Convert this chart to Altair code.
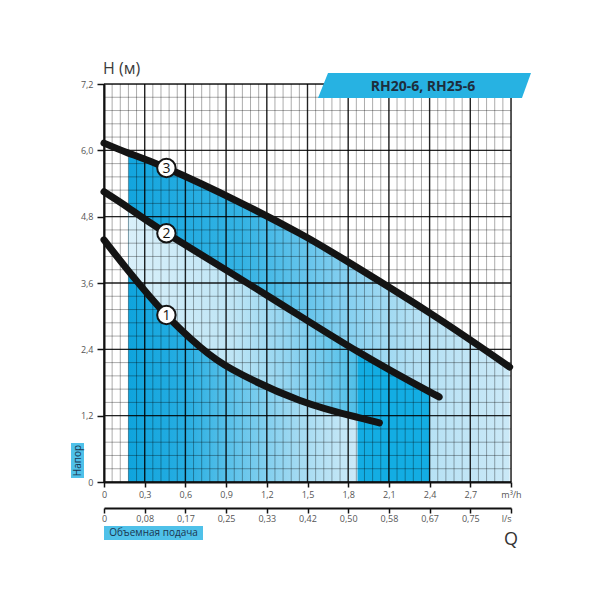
import altair as alt
import pandas as pd

# ---------------- data ----------------
curve1_q = [0, 0.18, 0.46, 0.71, 0.95, 1.44, 1.87, 2.03]
curve1_h = [4.38, 3.82, 3.02, 2.44, 2.03, 1.48, 1.17, 1.07]
curve2_q = [0, 0.18, 0.46, 1.20, 1.87, 2.40, 2.45]
curve2_h = [5.25, 4.96, 4.50, 3.38, 2.36, 1.63, 1.57]
curve3_q = [0, 0.18, 0.46, 1.00, 1.44, 1.74, 2.40, 2.99]
curve3_h = [6.13, 5.95, 5.68, 5.06, 4.50, 4.07, 3.06, 2.08]

curve_names = ["1", "2", "3"]
label_q = [0.46, 0.46, 0.46]
label_h = [3.02, 4.50, 5.68]

zone_start = 0.18
band_start = 1.87
band_end = 2.40

q_m3h_labels = ["0", "0,3", "0,6", "0,9", "1,2", "1,5", "1,8", "2,1", "2,4", "2,7", "m³/h"]
q_ls_labels = ["0", "0,08", "0,17", "0,25", "0,33", "0,42", "0,50", "0,58", "0,67", "0,75", "l/s"]
h_labels = ["0", "1,2", "2,4", "3,6", "4,8", "6,0", "7,2"]

q_major_step = 0.3
q_minor_step = 0.06
h_major_step = 1.2
h_minor_step = 0.24
q_max = 3.0
h_max = 7.2

title_text = "RH20-6, RH25-6"

# ---------------- tables ----------------
curves = pd.concat([
    pd.DataFrame({"q": curve1_q, "h": curve1_h, "curve": "1"}),
    pd.DataFrame({"q": curve2_q, "h": curve2_h, "curve": "2"}),
    pd.DataFrame({"q": curve3_q, "h": curve3_h, "curve": "3"}),
], ignore_index=True)
labels_df = pd.DataFrame({"q": label_q, "h": label_h, "t": curve_names})

q_major = [round(i * q_major_step, 2) for i in range(len(q_m3h_labels))]
q_minor = [round(i * q_minor_step, 2) for i in range(int(round(q_max / q_minor_step)) + 1)]
h_major = [round(i * h_major_step, 2) for i in range(len(h_labels))]
h_minor = [round(i * h_minor_step, 2) for i in range(int(round(h_max / h_minor_step)) + 1)]

FONT = "Open Sans"
INTERP = "natural"
xs = alt.Scale(domain=[0, q_max], nice=False, zero=True)
ys = alt.Scale(domain=[0, h_max], nice=False, zero=True)


def lab_expr(labels, step):
    return "[" + ",".join("'" + s + "'" for s in labels) + "][round(datum.value/" + str(step) + ")]"


main_x_axis = alt.Axis(
    values=q_major, labelExpr=lab_expr(q_m3h_labels, q_major_step), title=None, grid=False,
    tickSize=5, tickWidth=1.5, tickColor="#111", domainColor="#111", domainWidth=2,
    labelFont=FONT, labelFontSize=9, labelColor="#555", labelPadding=3,
    labelFlush=False, labelOverlap=False, zindex=1, orient="bottom")
sec_x_axis = alt.Axis(
    values=q_major, labelExpr=lab_expr(q_ls_labels, q_major_step), title=None, grid=False,
    tickSize=5, tickWidth=1.5, tickColor="#111", domainColor="#111", domainWidth=2,
    labelFont=FONT, labelFontSize=9, labelColor="#555", labelPadding=1,
    labelFlush=False, labelOverlap=False, zindex=1, orient="bottom", offset=26,
    labelAlign={"condition": {"test": "datum.value >= 2.99", "value": "right"}, "value": "center"})
y_axis = alt.Axis(
    values=h_major, labelExpr=lab_expr(h_labels, h_major_step), title=None, grid=False,
    tickSize=7, tickWidth=1.5, tickColor="#111", domainColor="#111", domainWidth=2,
    labelFont=FONT, labelFontSize=9, labelColor="#555", labelPadding=4,
    labelFlush=False, labelOverlap=False, zindex=1, orient="left")


def grad(stops):
    return alt.Gradient(gradient="linear", x1=0, x2=1, y1=0, y2=0,
                        stops=[alt.GradientStop(offset=o, color=c) for o, c in stops])


r3 = alt.Chart(curves).transform_filter(
    f"datum.curve == '3' && datum.q >= {zone_start}"
).mark_area(interpolate=INTERP, color=grad([
    (0, "#13a5de"), (0.3, "#34b3e4"), (0.55, "#7fcdef"), (0.75, "#b3e0f4"), (1, "#cbe9f7")])
).encode(x=alt.X("q:Q", scale=xs, axis=main_x_axis), y=alt.Y("h:Q", scale=ys, axis=y_axis))

r2 = alt.Chart(curves).transform_filter(
    f"datum.curve == '2' && datum.q >= {zone_start} && datum.q <= {band_start}"
).mark_area(interpolate=INTERP, color=grad([
    (0, "#d9f0fa"), (0.45, "#bfe5f5"), (0.75, "#86d0ef"), (1, "#4fbfe8")])
).encode(x=alt.X("q:Q", scale=xs, axis=None), y=alt.Y("h:Q", scale=ys, axis=None))

r1 = alt.Chart(curves).transform_filter(
    f"datum.curve == '1' && datum.q >= {zone_start} && datum.q <= {band_start}"
).mark_area(interpolate=INTERP, color=grad([
    (0, "#0fa4dd"), (0.25, "#27aee2"), (0.5, "#6ac7ec"), (0.75, "#a5dbf2"), (1, "#cdeaf8")])
).encode(x=alt.X("q:Q", scale=xs, axis=None), y=alt.Y("h:Q", scale=ys, axis=None))

band = alt.Chart(curves).transform_filter(
    f"datum.curve == '2' && datum.q >= {band_start} && datum.q <= {band_end}"
).mark_area(interpolate=INTERP, color="#13ade3"
).encode(x=alt.X("q:Q", scale=xs, axis=None), y=alt.Y("h:Q", scale=ys, axis=None))

vminor = alt.Chart(pd.DataFrame({"q": q_minor})).mark_rule(
    color="black", opacity=0.33, strokeWidth=1).encode(x=alt.X("q:Q", scale=xs, axis=None))
hminor = alt.Chart(pd.DataFrame({"h": h_minor})).mark_rule(
    color="black", opacity=0.33, strokeWidth=1).encode(y=alt.Y("h:Q", scale=ys, axis=None))
vmajor = alt.Chart(pd.DataFrame({"q": q_major})).mark_rule(
    color="black", opacity=0.8, strokeWidth=1.4).encode(x=alt.X("q:Q", scale=xs, axis=None))
hmajor = alt.Chart(pd.DataFrame({"h": h_major})).mark_rule(
    color="black", opacity=0.8, strokeWidth=1.4).encode(y=alt.Y("h:Q", scale=ys, axis=None))

lines = alt.Chart(curves).mark_line(
    interpolate=INTERP, strokeWidth=7, strokeCap="round", color="#141414"
).encode(x=alt.X("q:Q", scale=xs, axis=None), y=alt.Y("h:Q", scale=ys, axis=None),
         detail="curve:N", order="q:Q")

circles = alt.Chart(labels_df).mark_point(
    filled=True, fill="white", stroke="#141414", strokeWidth=2, size=340, opacity=1, shape="circle"
).encode(x=alt.X("q:Q", scale=xs, axis=sec_x_axis), y=alt.Y("h:Q", scale=ys, axis=None))
nums = alt.Chart(labels_df).mark_text(
    font=FONT, fontSize=14, color="#141414", baseline="middle", align="center", dy=1
).encode(x=alt.X("q:Q", scale=xs, axis=None), y=alt.Y("h:Q", scale=ys, axis=None), text="t:N")

one = pd.DataFrame({"t": [title_text]})
banner = alt.Chart(one).mark_point(
    filled=True, opacity=1, color="#27b2e2", strokeWidth=0,
    shape="M -0.906 -0.117 L 1 -0.117 L 0.915 0.117 L -1 0.117 Z"
).encode(x=alt.value(320.5), y=alt.value(1.5), size=alt.value(45369))
banner_txt = alt.Chart(one).mark_text(
    font=FONT, fontSize=14, fontWeight="bold", color="#1e2d3d", align="center", baseline="middle"
).encode(x=alt.value(319), y=alt.value(2.5), text="t:N")

h_title = alt.Chart(pd.DataFrame({"t": ["H (м)"]})).mark_text(
    font=FONT, fontSize=16, color="#3b3b3b", align="left", baseline="middle"
).encode(x=alt.value(-1), y=alt.value(-15.5), text="t:N")

napor_box = alt.Chart(pd.DataFrame({"t": ["Напор"]})).mark_rect(color="#4fc1e9").encode(
    x=alt.value(-33), x2=alt.value(-20), y=alt.value(359), y2=alt.value(394))
napor_txt = alt.Chart(pd.DataFrame({"t": ["Напор"]})).mark_text(
    font=FONT, fontSize=10, color="#1b3550", align="center", baseline="middle", angle=270
).encode(x=alt.value(-26.5), y=alt.value(376.5), text="t:N")

flow_box = alt.Chart(pd.DataFrame({"t": ["Объемная подача"]})).mark_rect(color="#4fc1e9").encode(
    x=alt.value(0), x2=alt.value(99), y=alt.value(442), y2=alt.value(456))
flow_txt = alt.Chart(pd.DataFrame({"t": ["Объемная подача"]})).mark_text(
    font=FONT, fontSize=10, color="#1b3550", align="center", baseline="middle"
).encode(x=alt.value(49.5), y=alt.value(449), text="t:N")

q_txt = alt.Chart(pd.DataFrame({"t": ["Q"]})).mark_text(
    font=FONT, fontSize=18, color="#333", align="center", baseline="alphabetic"
).encode(x=alt.value(407), y=alt.value(461), text="t:N")

chart = alt.layer(
    r3, r2, r1, band, vminor, hminor, vmajor, hmajor, lines, circles, nums,
    banner, banner_txt, h_title, napor_box, napor_txt, flow_box, flow_txt, q_txt
).resolve_axis(x="independent", y="independent").properties(
    width=407, height=398,
    autosize=alt.AutoSizeParams(type="none"),
    padding={"left": 104, "top": 84, "right": 89, "bottom": 118},
).configure_view(stroke=None).configure(background="white")

chart.save("out.html", embed_options={"renderer": "svg", "actions": False})
